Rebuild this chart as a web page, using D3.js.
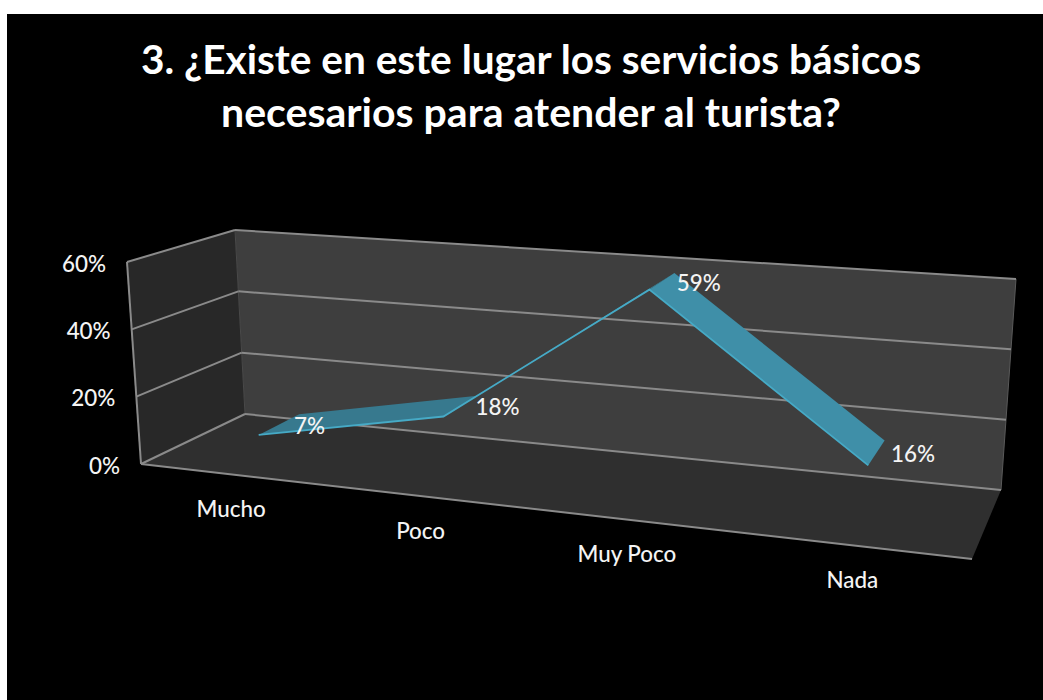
<!DOCTYPE html>
<html><head><meta charset="utf-8">
<script src="https://cdn.jsdelivr.net/npm/d3@7"></script>
<style>html,body{margin:0;padding:0;background:#fff}svg{display:block}text{font-family:Lato,"Open Sans",sans-serif;fill:#f4f4f4}</style>
</head><body><svg id="c" width="1043" height="700"></svg>
<script>
const categories = ["Mucho","Poco","Muy Poco","Nada"];
const values = [7,18,59,16];
const valueLabels = ["7%","18%","59%","16%"];
const yTicks = [0,20,40,60];
const titleLines = ["3. ¿Existe en este lugar los servicios básicos","necesarios para atender al turista?"];

const floorQuad = [[141,464],[972,559],[1001,490],[245,414]];
const topQuad   = [[127,262],[998,325],[1016,279],[235,230]];

function homography(q){
  const [[x0,y0],[x1,y1],[x2,y2],[x3,y3]] = q;
  const dx1=x1-x2,dx2=x3-x2,sx=x0-x1+x2-x3,dy1=y1-y2,dy2=y3-y2,sy=y0-y1+y2-y3;
  const den=dx1*dy2-dx2*dy1,g=(sx*dy2-dx2*sy)/den,h=(dx1*sy-sx*dy1)/den;
  const a=x1-x0+g*x1,b=x3-x0+h*x3,d=y1-y0+g*y1,e=y3-y0+h*y3;
  return (u,v)=>{const w=g*u+h*v+1;return [(a*u+b*v+x0)/w,(d*u+e*v+y0)/w];};
}
const hFloor=homography(floorQuad), hTop=homography(topQuad);
const P=(u,h,d)=>{const a=hFloor(u,d),b=hTop(u,d);return [a[0]+(b[0]-a[0])*h,a[1]+(b[1]-a[1])*h];};

const xS=d3.scalePoint().domain(categories).range([0,1]).padding(0.5);
const yS=d3.scaleLinear().domain([0,60]).range([0,1]);
const line=d3.line();
const svg=d3.select("#c");
svg.append("rect").attr("x",7).attr("y",14).attr("width",1036).attr("height",686).attr("fill","#000");

const poly=(pts,fill)=>svg.append("path").attr("d",line(pts)+"Z").attr("fill",fill);
poly([P(0,0,1),P(1,0,1),P(1,1,1),P(0,1,1)],"#3e3e3e");
poly([P(0,0,0),P(0,0,1),P(0,1,1),P(0,1,0)],"#282828");
poly([P(0,0,0),P(1,0,0),P(1,0,1),P(0,0,1)],"#2f2f2f");

const gl=(a,b,c="#8a8a8a",w=2)=>svg.append("path").attr("d",line([a,b])).attr("stroke",c).attr("stroke-width",w).attr("fill","none");
gl(P(0,0,1),P(0,1,1),"#4a4a4a",1);
gl(P(1,0,1),P(1,1,1),"#5a5a5a",1);
yTicks.forEach(t=>{
  const h=yS(t);
  gl(P(0,h,0),P(0,h,1));
  gl(P(0,h,1),P(1,h,1));
});
gl(P(0,0,0),P(1,0,0));
gl(P(0,0,0),P(0,1,0));

const dFront=0.285,dBack=0.70;
const segFill=["#37798e","#3b8197","#3f8fa8"];
for(let i=0;i<categories.length-1;i++){
  const a=xS(categories[i]),b=xS(categories[i+1]),ha=yS(values[i]),hb=yS(values[i+1]);
  poly([P(a,ha,dFront),P(b,hb,dFront),P(b,hb,dBack),P(a,ha,dBack)],segFill[i]);
}
svg.append("path").attr("d",line(categories.map((c,i)=>P(xS(c),yS(values[i]),dFront))))
  .attr("fill","none").attr("stroke","#46aac6").attr("stroke-width",1.8);

const txt=(p,s,size,anchor,weight)=>svg.append("text").attr("x",p[0]).attr("y",p[1]).attr("text-anchor",anchor)
  .attr("font-size",size).attr("font-weight",weight||500).text(s);
yTicks.forEach(t=>{const p=P(0,yS(t),0);txt([p[0]-21,p[1]+9.5],t+"%",22.4,"end");});
categories.forEach(c=>{const p=P(xS(c),0,0);txt([p[0]+1,p[1]+43],c,22.4,"middle");});
categories.forEach((c,i)=>{
  const p=P(xS(c),yS(values[i]),0.5);
  txt([p[0]+14,p[1]+10],valueLabels[i],22.4,"start");
});
const titleWidths=[780,620];
titleLines.forEach((t,i)=>{
  svg.append("text").attr("x",531).attr("y",74+i*53).attr("text-anchor","middle")
   .attr("font-size",40.6).attr("font-weight",700).attr("textLength",titleWidths[i]).attr("lengthAdjust","spacingAndGlyphs")
   .style("fill","#fff").text(t);
});
</script></body></html>
